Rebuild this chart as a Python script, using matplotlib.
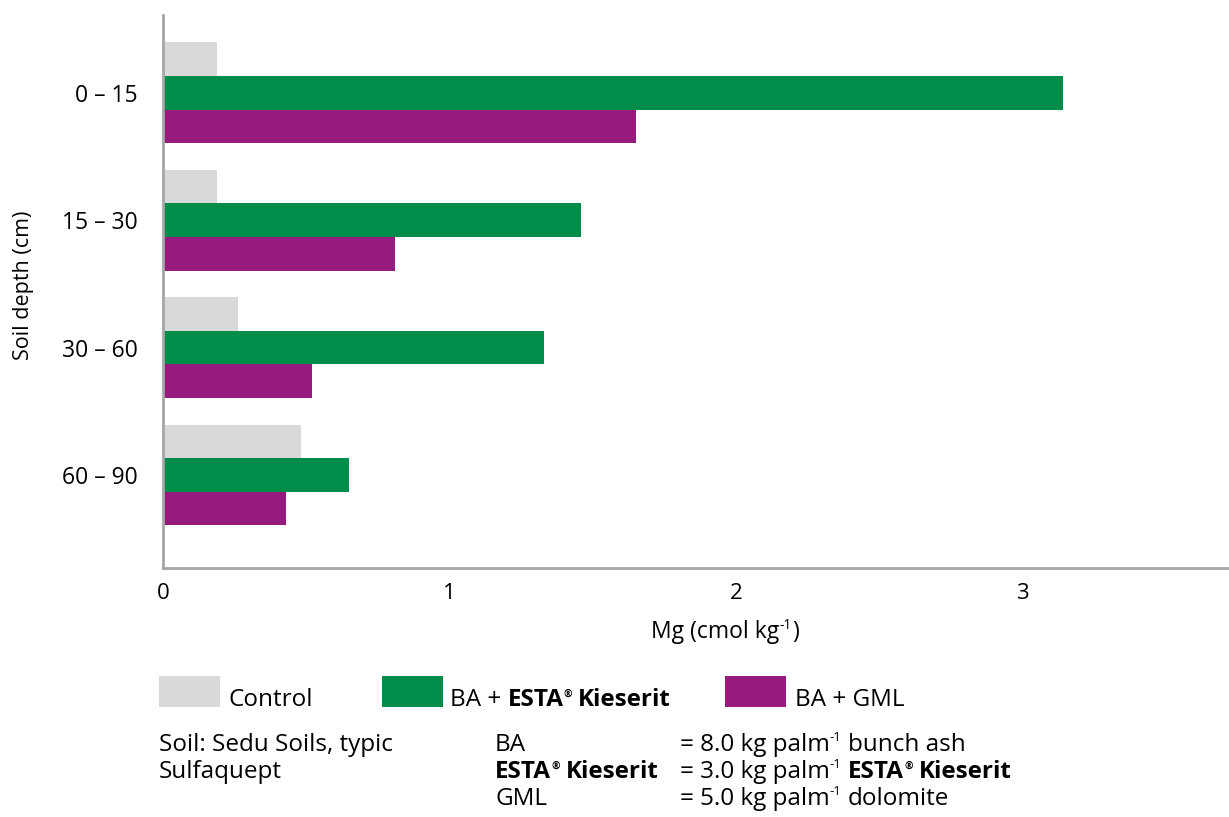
import matplotlib
matplotlib.use("Agg")
import matplotlib.pyplot as plt
from matplotlib.patches import Rectangle

# ---------------- data ----------------
depths = ["0 – 15", "15 – 30", "30 – 60", "60 – 90"]
series_names = ["Control", "BA + ESTA® Kieserit", "BA + GML"]
control = [0.19, 0.19, 0.26, 0.48]
ba_esta = [3.14, 1.46, 1.33, 0.65]
ba_gml = [1.65, 0.81, 0.52, 0.43]
x_ticks = [0, 1, 2, 3]

C_CTRL = "#d9d9d9"
C_GREEN = "#008d4b"
C_PURPLE = "#951b7e"
AX_COL = "#a6a6a6"
FAM = ["Open Sans", "DejaVu Sans"]

plt.rcParams["font.family"] = FAM

W, H = 1229, 817
fig = plt.figure(figsize=(W / 100, H / 100), dpi=100)
ax = fig.add_axes([163 / W, 1 - 568 / H, 1 - 163 / W, (568 - 15) / H])

bh = 0.264
ypos = list(range(len(depths)))
ax.barh([y - bh for y in ypos], control, height=bh, color=C_CTRL, linewidth=0)
ax.barh(ypos, ba_esta, height=bh, color=C_GREEN, linewidth=0)
ax.barh([y + bh for y in ypos], ba_gml, height=bh, color=C_PURPLE, linewidth=0)

ax.set_xlim(0, 3.72)
ax.set_ylim(3.73, -0.61)
ax.set_yticks(ypos)
ax.set_yticklabels(depths, fontsize=16.5, va="top")
for lbl in ax.get_yticklabels():
    lbl.set_verticalalignment("center_baseline")
ax.set_xticks(x_ticks)
ax.set_xticklabels([str(t) for t in x_ticks], fontsize=16)
ax.tick_params(axis="y", length=0, pad=18)
ax.tick_params(axis="x", length=0, pad=11)
for s in ["top", "right"]:
    ax.spines[s].set_visible(False)
for s in ["left", "bottom"]:
    ax.spines[s].set_color(AX_COL)
    ax.spines[s].set_linewidth(2)

renderer = fig.canvas.get_renderer()
PT = 100 / 72.0


def text_w(s, size, bold=False):
    t = fig.text(0, 0, s, fontsize=size, fontweight="bold" if bold else "normal")
    w = t.get_window_extent(renderer).width
    t.remove()
    return w


def rich(x_px, y_px, parts, size, center=False):
    """parts: list of (string, bold, superscript-scale or 0); ' ' = space"""
    sp = text_w("x x", size) - text_w("xx", size)
    x = x_px
    made = []
    prev_sup = False
    for s, bold, sup in parts:
        if s == " ":
            x += sp * (0.85 if prev_sup else 1.0)
            continue
        fs = size * sup if sup else size
        yy = y_px - size * PT * 0.40 if sup else y_px
        t = fig.text(x / W, 1 - yy / H, s, fontsize=fs,
                     fontweight="bold" if bold else "normal",
                     ha="left", va="baseline", family=FAM)
        made.append(t)
        x += t.get_window_extent(renderer).width + (1 if sup else 0)
        prev_sup = bool(sup)
    if center:
        total = x - x_px
        for t in made:
            px, py = t.get_position()
            t.set_position((px - total / 2 / W, py))


ax.set_ylabel("Soil depth (cm)", fontsize=15.5)
ax.yaxis.set_label_coords((34 - 163) / 1066, (568 - 285) / 553)

# x-axis title
rich(725, 638, [("Mg (cmol kg", False, 0), ("-1", False, 0.6), (")", False, 0)],
     16.5, center=True)

# ---------------- legend ----------------
leg_size = 17.5
REG = 0.42
leg_items = [
    (159, C_CTRL, 228, [("Control", False, 0)]),
    (382, C_GREEN, 450, [("BA +", False, 0), (" ", False, 0),
                         ("ESTA", True, 0), ("®", True, REG),
                         (" ", False, 0), ("Kieserit", True, 0)]),
    (725, C_PURPLE, 795, [("BA + GML", False, 0)]),
]
for px, col, tx, parts in leg_items:
    fig.patches.append(Rectangle((px / W, 1 - 707 / H), 61 / W, 31 / H,
                                 transform=fig.transFigure, color=col, lw=0))
    rich(tx, 706, parts, leg_size)

# ---------------- notes ----------------
ns = 17.5
rich(159, 751, [("Soil: Sedu Soils, typic", False, 0)], ns)
rich(159, 778, [("Sulfaquept", False, 0)], ns)
rich(495, 751, [("BA", False, 0)], ns)
rich(495, 778, [("ESTA", True, 0), ("®", True, REG), (" ", False, 0),
                ("Kieserit", True, 0)], ns)
rich(495, 805, [("GML", False, 0)], ns)
rich(680, 751, [("= 8.0 kg palm", False, 0), ("-1", False, 0.55),
                (" ", False, 0), ("bunch ash", False, 0)], ns)
rich(680, 778, [("= 3.0 kg palm", False, 0), ("-1", False, 0.55),
                (" ", False, 0), ("ESTA", True, 0), ("®", True, REG),
                (" ", False, 0), ("Kieserit", True, 0)], ns)
rich(680, 805, [("= 5.0 kg palm", False, 0), ("-1", False, 0.55),
                (" ", False, 0), ("dolomite", False, 0)], ns)

fig.savefig("out.png", dpi=100)
